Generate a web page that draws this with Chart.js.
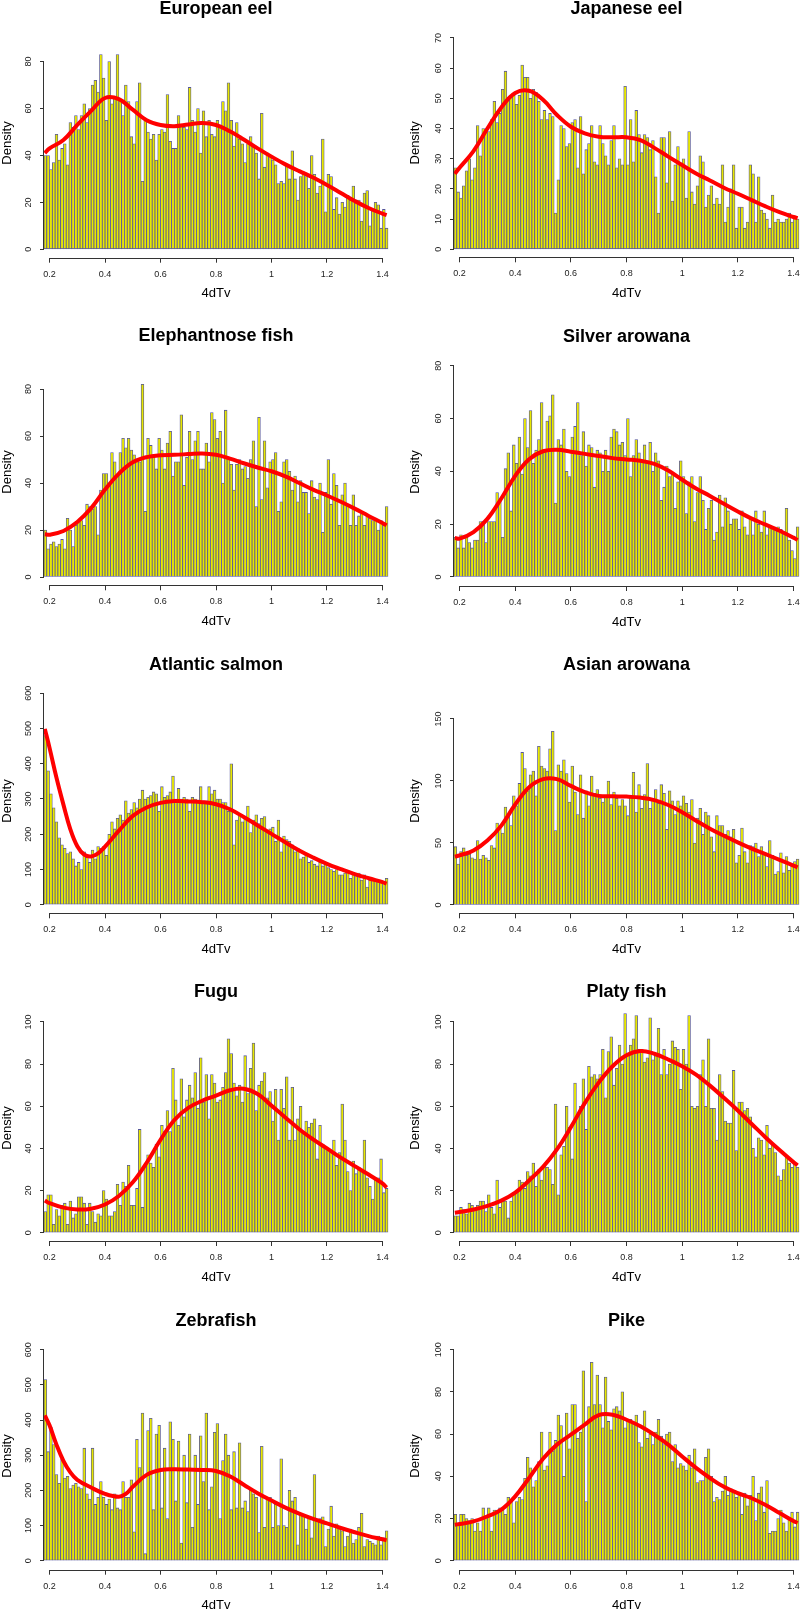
<!DOCTYPE html>
<html>
<head>
<meta charset="utf-8">
<title>4dTv distributions</title>
<script src="https://cdn.jsdelivr.net/npm/chart.js@4.4.1/dist/chart.umd.min.js"></script>
<style>
  html, body { margin: 0; padding: 0; background: #fff; }
  body { position: relative; width: 800px; height: 1612px; overflow: hidden; font-family: "Liberation Sans", Arial, sans-serif; }
  canvas { position: absolute; }
  .title { position: absolute; transform: translate(-50%, -50%); font-weight: bold; font-size: 18px; line-height: 1; white-space: nowrap; color: #000; }
</style>
</head>
<body>
<script>
// histogram bins: 0.01 wide, starting at 0.18
const BIN_START = 0.18;
const BIN_WIDTH = 0.01;
const X_MIN = 0.18;
const X_MAX = 1.42;
const X_TICK_STEP = 0.2;

const SPECIES = ['European eel', 'Japanese eel', 'Elephantnose fish', 'Silver arowana',
  'Atlantic salmon', 'Asian arowana', 'Fugu', 'Platy fish', 'Zebrafish', 'Pike'];

const Y_STEPS = [20, 10, 20, 20, 100, 50, 20, 20, 100, 20];

// bar heights (density), one value per bin
const EUROPEAN_EEL = [
  40,40,34,37,49,38,43,45,36,54, 52,57,51,57,62,54,60,70,72,67,
  83,73,55,80,62,65,83,64,57,70, 63,48,45,63,71,29,55,50,47,49,
  38,49,51,50,66,46,43,43,57,53, 52,51,69,55,50,60,41,59,48,55,
  49,48,55,53,63,59,71,55,44,54, 47,45,37,45,48,44,41,30,58,35,
  41,40,38,36,28,29,28,36,30,42, 30,21,31,33,31,26,40,32,24,27,
  47,16,32,31,17,22,15,20,18,23, 21,27,21,21,12,24,25,10,17,20,
  19,9,17,9];
const JAPANESE_EEL = [
  27,19,17,21,26,30,23,27,41,31, 40,39,39,43,49,42,45,53,59,50,
  51,51,48,51,61,57,57,50,53,52, 49,43,46,43,45,44,12,23,41,40,
  34,35,42,43,27,44,25,33,35,41, 29,28,41,35,31,28,36,41,27,30,
  28,54,28,43,29,46,38,32,38,37, 33,36,24,12,37,37,22,39,16,28,
  34,28,30,17,39,19,15,21,31,29, 14,18,21,15,17,15,28,9,14,20,
  28,7,14,14,7,9,28,25,9,24, 13,12,10,7,18,9,10,9,9,10,
  12,9,11,10];
const ELEPHANTNOSE = [
  20,12,14,15,13,14,16,12,25,20, 13,22,24,24,22,31,30,29,30,18,
  37,44,44,40,53,49,43,53,59,55, 59,54,52,50,49,82,28,59,56,51,
  46,59,54,46,57,62,43,49,49,69, 39,51,62,50,58,62,46,46,57,49,
  70,67,59,62,40,71,50,48,37,48, 50,46,47,42,50,58,30,68,33,58,
  38,49,50,53,28,32,49,50,45,37, 43,32,41,36,36,27,41,34,33,40,
  19,36,50,31,44,39,22,35,40,31, 22,35,22,26,27,22,26,25,24,24,
  20,24,22,30];
const SILVER_AROWANA = [
  15,11,16,11,15,13,11,14,14,21, 21,13,21,21,21,32,29,15,41,47,
  25,50,43,53,39,60,49,63,43,48, 52,66,48,59,61,69,28,52,50,56,
  40,38,53,57,66,46,55,42,50,49, 34,48,47,40,48,40,53,56,55,50,
  51,46,60,38,46,52,47,44,50,44, 51,40,47,44,29,34,42,38,39,26,
  36,44,38,24,36,38,21,32,38,29, 18,26,29,14,17,31,19,30,25,20,
  22,22,18,25,19,16,22,16,25,20, 17,25,16,19,19,18,19,18,17,26,
  14,10,7,19];
const ATLANTIC_SALMON = [
  480,380,315,275,235,190,170,160,145,150, 130,110,120,100,150,135,120,155,130,165,
  160,165,140,200,235,215,245,255,240,295, 260,270,290,275,300,325,300,305,310,320,
  315,265,335,305,310,320,365,300,330,300, 305,300,265,305,300,290,335,295,295,335,
  315,325,300,300,290,290,265,400,170,240, 255,235,245,280,205,240,255,230,245,250,
  205,215,220,180,240,150,195,185,180,170, 150,160,130,135,140,120,125,115,110,120,
  110,115,105,100,95,100,85,85,90,95, 75,90,80,90,70,85,50,70,75,70,
  65,70,65,75];
const ASIAN_AROWANA = [
  47,33,43,46,40,41,38,37,52,37, 40,38,36,48,46,66,63,58,79,72,
  64,88,80,98,123,110,92,105,108,88, 128,112,110,108,126,140,60,113,108,117,
  106,83,112,91,73,105,70,92,80,104, 90,93,86,83,88,100,81,91,86,80,
  85,80,72,87,107,75,97,78,89,114, 78,85,93,82,97,90,61,92,84,73,
  84,80,88,82,75,85,50,70,78,57, 75,72,55,43,72,64,64,57,60,55,
  61,34,40,62,43,34,48,47,50,39, 47,42,31,52,40,25,27,42,26,39,
  28,33,35,37];
const FUGU = [
  10,18,18,4,11,8,13,14,4,15, 7,9,17,17,14,4,14,10,5,9,
  8,20,16,8,8,10,23,13,24,22, 32,13,13,21,49,12,32,37,33,31,
  42,36,51,48,58,48,78,63,51,73, 55,63,70,64,76,59,83,62,75,54,
  75,71,62,63,69,76,92,85,71,65, 70,62,84,66,78,90,58,70,72,76,
  64,67,53,68,44,68,59,74,44,69, 44,54,60,47,53,50,52,54,35,51,
  42,40,39,38,44,32,38,61,44,29, 20,34,28,31,29,44,26,22,16,26,
  26,35,19,21];
const PLATY_FISH = [
  8,8,12,11,9,14,13,11,13,15, 15,10,18,12,9,25,12,15,15,7,
  15,19,20,25,24,21,29,27,33,22, 30,25,32,31,30,23,61,18,37,41,
  60,50,35,71,56,60,73,49,79,74, 75,73,75,87,64,86,93,70,78,89,
  80,104,85,89,92,103,87,87,81,83, 102,82,84,97,75,87,75,80,91,88,
  87,68,87,80,103,60,59,60,75,82, 60,92,59,59,44,75,67,53,52,52,
  77,39,62,62,58,59,55,40,36,45, 44,37,51,40,42,38,27,25,30,36,
  33,31,33,31];
const ZEBRAFISH = [
  515,310,380,330,245,220,290,235,240,205, 215,220,210,205,320,190,175,320,160,180,
  225,180,160,175,145,190,150,145,225,180, 180,230,82,345,265,420,20,370,405,145,
  360,385,150,320,120,395,345,170,340,50, 300,165,360,95,300,160,355,225,420,145,
  210,365,390,120,285,360,300,145,310,150, 335,150,170,140,200,190,180,80,325,95,
  175,180,95,160,100,290,100,95,200,170, 180,45,135,130,90,120,65,245,115,120,
  125,40,90,155,70,105,95,85,40,70, 90,50,60,95,135,40,60,55,50,45,
  70,45,65,85];
const PIKE = [
  22,17,22,22,20,19,20,14,18,14, 25,20,25,14,24,24,25,24,22,30,
  29,18,28,30,29,39,49,44,35,38, 47,61,43,45,61,52,57,69,64,40,
  70,53,74,74,58,61,90,28,73,94, 74,88,74,63,87,66,62,72,73,71,
  80,63,66,67,65,69,56,54,71,58, 60,55,61,67,59,55,60,61,47,55,
  44,46,45,43,50,44,53,37,38,38, 49,53,40,28,30,29,33,40,31,34,
  33,30,32,22,32,26,31,40,19,32, 35,23,38,13,14,14,20,24,18,14,
  20,23,16,23];

// kernel density curves, read at these 4dTv values
const CURVE_X = [0.183, 0.2, 0.25, 0.3, 0.35, 0.4, 0.45, 0.5, 0.55, 0.6, 0.65, 0.7, 0.75, 0.8,
  0.85, 0.9, 0.95, 1.0, 1.05, 1.1, 1.15, 1.2, 1.25, 1.3, 1.35, 1.4, 1.415];
const SALMON_CURVE_X = [0.183, 0.2, 0.225, 0.25, 0.275, 0.3, 0.325, 0.35, 0.375, 0.4, 0.45, 0.5,
  0.55, 0.6, 0.65, 0.7, 0.75, 0.8, 0.85, 0.9, 0.95, 1.0, 1.05, 1.1, 1.15, 1.2, 1.25, 1.3, 1.35, 1.4, 1.415];
const ZEBRA_CURVE_X = [0.183, 0.2, 0.225, 0.25, 0.275, 0.3, 0.35, 0.4, 0.45, 0.475, 0.5, 0.55,
  0.6, 0.65, 0.7, 0.75, 0.8, 0.85, 0.9, 0.95, 1.0, 1.05, 1.1, 1.15, 1.2, 1.25, 1.3, 1.35, 1.4, 1.415];

const EUROPEAN_EEL_DENSITY = [41, 43, 46.6, 53, 59, 64.5, 64, 59.5, 55, 53, 52.5, 53.2, 53.8, 53, 50.3, 46.8,
  43, 39.5, 36.2, 33.3, 30.6, 27.4, 24, 20.6, 17.6, 15.2, 14.6];
const JAPANESE_EEL_DENSITY = [25, 27, 32.5, 40, 47, 51.8, 52.5, 49.5, 44.5, 40.6, 38.4, 37.3, 37.1, 37.1,
  36.2, 33.6, 30.7, 27.9, 25.1, 22.8, 20.4, 18.4, 16.3, 14.2, 12.3, 10.7, 10.3];
const ELEPHANTNOSE_DENSITY = [18.2, 18, 19.6, 23.4, 29.3, 37.2, 44, 48.8, 51, 51.8, 52, 52.3, 52.6, 52,
  50.4, 48.4, 46.6, 45, 42.8, 40, 37.2, 34.7, 32, 29.1, 26, 23, 22];
const SILVER_AROWANA_DENSITY = [14.8, 14.5, 17, 22, 29.7, 38.3, 44.6, 47.6, 48.2, 47.4, 46.6, 45.8,
  45, 44.5, 44, 42.8, 40.3, 36.8, 33.5, 30.7, 27.7, 24.8, 22.1, 19.8, 17.5, 14.9, 14];
const ATLANTIC_SALMON_DENSITY = [499, 445, 360, 284, 214, 166, 142, 137, 146, 165, 210, 252, 276, 289,
  294, 293, 291, 285, 271, 249, 225, 201, 177, 154, 134, 116, 101, 87, 75, 64, 60];
const ASIAN_AROWANA_DENSITY = [39, 40, 44, 52, 64, 81, 95, 101.5, 101.5, 96, 91, 88, 87.6, 87.4, 86.6,
  84.6, 80.6, 74.8, 68, 61.5, 55.8, 50.5, 45.5, 41, 36.4, 31.8, 30.4];
const FUGU_DENSITY = [15.3, 14, 11.9, 11, 11.4, 13.4, 17.4, 23.9, 33.2, 44.1, 53.5, 59.2, 62.6, 65,
  67.6, 68.3, 65.8, 60.3, 54.7, 49.1, 44.3, 40, 35.6, 31.6, 27.6, 23.4, 21.4];
const PLATY_FISH_DENSITY = [9.5, 9.8, 11, 12.7, 15.2, 19, 24.8, 31.2, 39.5, 50, 61.5, 71.2, 79, 84.2,
  86.2, 84.9, 82.2, 79, 75, 69.8, 64, 58, 51.6, 45.2, 39.2, 33.5, 32];
const ZEBRAFISH_DENSITY = [413, 385, 330, 284, 251, 230, 208, 190, 182, 190, 210, 244, 258, 260, 259,
  258, 255, 240, 216, 192, 171, 151, 134, 119, 106, 93, 81, 70, 61, 58];
const PIKE_DENSITY = [17, 17.4, 18.6, 21, 24.2, 30.5, 39.2, 48.3, 55, 59.7, 64.5, 69, 69.2, 66.8,
  63.7, 59.7, 55, 49.4, 44, 39.2, 35, 32, 29.6, 26.4, 22.6, 18.8, 17.9];

const PANELS = [
  { bars: EUROPEAN_EEL, curveX: CURVE_X, curveY: EUROPEAN_EEL_DENSITY },
  { bars: JAPANESE_EEL, curveX: CURVE_X, curveY: JAPANESE_EEL_DENSITY },
  { bars: ELEPHANTNOSE, curveX: CURVE_X, curveY: ELEPHANTNOSE_DENSITY },
  { bars: SILVER_AROWANA, curveX: CURVE_X, curveY: SILVER_AROWANA_DENSITY },
  { bars: ATLANTIC_SALMON, curveX: SALMON_CURVE_X, curveY: ATLANTIC_SALMON_DENSITY },
  { bars: ASIAN_AROWANA, curveX: CURVE_X, curveY: ASIAN_AROWANA_DENSITY },
  { bars: FUGU, curveX: CURVE_X, curveY: FUGU_DENSITY },
  { bars: PLATY_FISH, curveX: CURVE_X, curveY: PLATY_FISH_DENSITY },
  { bars: ZEBRAFISH, curveX: ZEBRA_CURVE_X, curveY: ZEBRAFISH_DENSITY },
  { bars: PIKE, curveX: CURVE_X, curveY: PIKE_DENSITY }
];

// ---- layout (pixels) ----
const ROW_H = 322;
const CANVAS_H = 330;
const X_AXIS_H = 44;
const COLS = [
  { left: 0, width: 400, plotLeft: 44, plotRight: 388, densityPad: 0 },
  { left: 400, width: 410, plotLeft: 54, plotRight: 399, densityPad: 8 }
];
// plot region top/bottom inside each panel, y range incl. R's 4% margins, title centre
const LAYOUT = [
  { col: 0, row: 0, top: 28.3, bottom: 257.7, yMin: -3.58, yMax: 94.2, titleY: 8 },
  { col: 1, row: 0, top: 28.3, bottom: 257.3, yMin: -2.65, yMax: 73.2, titleY: 8 },
  { col: 0, row: 1, top: 36.7, bottom: 263.3, yMin: -3.53, yMax: 92.9, titleY: 335 },
  { col: 1, row: 1, top: 36, bottom: 264, yMin: -3.41, yMax: 82.9, titleY: 336 },
  { col: 0, row: 2, top: 44.7, bottom: 269.3, yMin: -24.4, yMax: 613, titleY: 664 },
  { col: 1, row: 2, top: 44.7, bottom: 269.3, yMin: -6.7, yMax: 174.4, titleY: 664 },
  { col: 0, row: 3, top: 49, bottom: 275, yMin: -3.94, yMax: 103.3, titleY: 991 },
  { col: 1, row: 3, top: 49, bottom: 275, yMin: -3.94, yMax: 103.3, titleY: 991 },
  { col: 0, row: 4, top: 54.3, bottom: 281.7, yMin: -25.6, yMax: 621, titleY: 1320 },
  { col: 1, row: 4, top: 54.3, bottom: 281.7, yMin: -4.27, yMax: 103.5, titleY: 1320 }
];

const FONT = 'Liberation Sans';
const AXIS_COLOR = '#333';
const BAR_FILL = '#e8e800';
const BAR_EDGE = '#55559a';

// R-style axis lines: only from the first to the last tick
const rAxisLines = {
  id: 'rAxisLines',
  afterDraw(chart) {
    const { ctx, chartArea, scales: { x, y } } = chart;
    const xa = x.getPixelForValue(x.ticks[0].value);
    const xb = x.getPixelForValue(x.ticks[x.ticks.length - 1].value);
    const ya = y.getPixelForValue(y.ticks[0].value);
    const yb = y.getPixelForValue(y.ticks[y.ticks.length - 1].value);
    ctx.save();
    ctx.strokeStyle = AXIS_COLOR;
    ctx.lineWidth = 1;
    ctx.beginPath();
    ctx.moveTo(xa, Math.round(chartArea.bottom) + 0.5);
    ctx.lineTo(xb, Math.round(chartArea.bottom) + 0.5);
    ctx.moveTo(Math.round(chartArea.left) - 0.5, ya);
    ctx.lineTo(Math.round(chartArea.left) - 0.5, yb);
    ctx.stroke();
    ctx.restore();
  }
};

function drawPanel(p, i) {
  const L = LAYOUT[i];
  const col = COLS[L.col];

  const canvas = document.createElement('canvas');
  canvas.width = col.width;
  canvas.height = CANVAS_H;
  canvas.style.left = col.left + 'px';
  canvas.style.top = (L.row * ROW_H) + 'px';
  document.body.appendChild(canvas);

  const title = document.createElement('div');
  title.className = 'title';
  title.textContent = SPECIES[i];
  title.style.left = (col.left + (col.plotLeft + col.plotRight) / 2) + 'px';
  title.style.top = L.titleY + 'px';
  document.body.appendChild(title);

  const step = Y_STEPS[i];
  const topTick = Math.floor(L.yMax / step) * step;
  const labelPad = 11 - String(topTick).length * 2.5;

  new Chart(canvas, {
    type: 'bar',
    data: {
      datasets: [
        {
          type: 'line',
          data: p.curveX.map((x, k) => ({ x: x, y: p.curveY[k] })),
          borderColor: '#ff0000',
          borderWidth: 4,
          pointRadius: 0,
          tension: 0.4,
          order: 0
        },
        {
          type: 'bar',
          data: p.bars.map((v, k) => ({ x: BIN_START + BIN_WIDTH * (k + 0.5), y: v })),
          backgroundColor: BAR_FILL,
          borderColor: BAR_EDGE,
          borderWidth: 0.8,
          borderSkipped: false,
          barPercentage: 1,
          categoryPercentage: 1,
          clip: false,
          order: 1
        }
      ]
    },
    options: {
      responsive: false,
      animation: false,
      devicePixelRatio: 1,
      layout: {
        padding: {
          left: 0,
          right: col.width - col.plotRight,
          top: L.top,
          bottom: CANVAS_H - L.bottom - X_AXIS_H
        }
      },
      plugins: { legend: { display: false }, tooltip: { enabled: false } },
      scales: {
        x: {
          type: 'linear',
          min: X_MIN,
          max: X_MAX,
          offset: false,
          border: { display: false },
          grid: { offset: false, drawOnChartArea: false, tickLength: 5, color: AXIS_COLOR },
          ticks: {
            stepSize: X_TICK_STEP,
            includeBounds: false,
            autoSkip: false,
            maxRotation: 0,
            padding: 6,
            color: '#222',
            font: { family: FONT, size: 9 },
            callback: v => String(Math.round(v * 10) / 10)
          },
          title: { display: true, text: '4dTv', color: '#000', font: { family: FONT, size: 13 }, padding: 0 },
          afterFit: s => { s.height = X_AXIS_H; }
        },
        y: {
          min: L.yMin,
          max: L.yMax,
          border: { display: false },
          grid: { drawOnChartArea: false, tickLength: 4, color: AXIS_COLOR },
          ticks: {
            stepSize: step,
            includeBounds: false,
            autoSkip: false,
            minRotation: 90,
            maxRotation: 90,
            crossAlign: 'center',
            padding: labelPad,
            color: '#222',
            font: { family: FONT, size: 9 }
          },
          title: { display: true, text: 'Density', color: '#000', font: { family: FONT, size: 13 },
                   padding: { top: col.densityPad, bottom: 0 } },
          afterFit: s => { s.width = col.plotLeft; }
        }
      }
    },
    plugins: [rAxisLines]
  });
}

PANELS.forEach(drawPanel);
</script>
</body>
</html>
